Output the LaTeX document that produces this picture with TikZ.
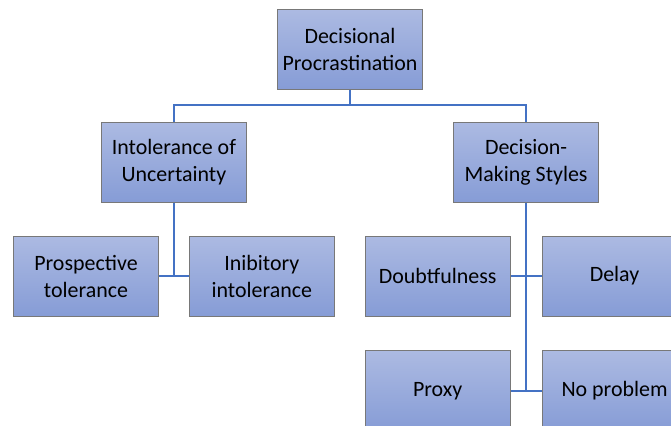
\documentclass[tikz,border=0pt]{standalone}
\usepackage{fontspec}
\setmainfont{Carlito}
\usepackage{xcolor}
\usepackage{tikz}
\usetikzlibrary{positioning, calc}

\definecolor{boxtop}{RGB}{172,186,226}
\definecolor{boxbot}{RGB}{134,156,214}
\definecolor{boxline}{RGB}{120,120,120}
\definecolor{linkblue}{RGB}{68,114,196}

\begin{document}
\begin{tikzpicture}[
    node distance=0.75cm,
    box/.style={rectangle, draw=boxline, line width=0.6pt, top color=boxtop, bottom color=boxbot,
                minimum width=3.625cm, minimum height=2cm, align=center,
                font=\fontsize{15.6}{19.2}\selectfont},
    link/.style={draw=linkblue, line width=1.4pt}
]
\clip (0,0) rectangle (16.775,-10.625);

\node[box] (PT) at (2.15,-6.9) {Prospective\\tolerance};
\node[box] (II) [right=of PT] {Inibitory\\intolerance};
\node[box] (Dou) [right=of II] {Doubtfulness};
\node[box] (Delay) [right=0.775cm of Dou] {Delay};
\node[box] (Proxy) [below=0.85cm of Dou] {Proxy};
\node[box] (NoP) [right=0.775cm of Proxy] {No problem};

\node[box] (IoU) [above=0.825cm of PT.north east, xshift=0.375cm] {Intolerance of\\Uncertainty};
\node[box] (DMS) [above=0.825cm of Dou.north east, xshift=0.3875cm] {Decision-\\Making Styles};
\node[box] (DP) [above=0.8cm of $(IoU.north)!0.5!(DMS.north)$] {Decisional\\Procrastination};

\draw[link] (DP.south) -- ++(0,-0.37) coordinate (dpj);
\draw[link] (dpj) -| (IoU.north);
\draw[link] (dpj) -| (DMS.north);

\draw[link] (IoU.south) |- (PT.east);
\draw[link] (IoU.south) |- (II.west);

\draw[link] (DMS.south) |- (Dou.east);
\draw[link] (DMS.south) |- (Delay.west);
\draw[link] (DMS.south) |- (Proxy.east);
\draw[link] (DMS.south) |- (NoP.west);
\end{tikzpicture}
\end{document}
